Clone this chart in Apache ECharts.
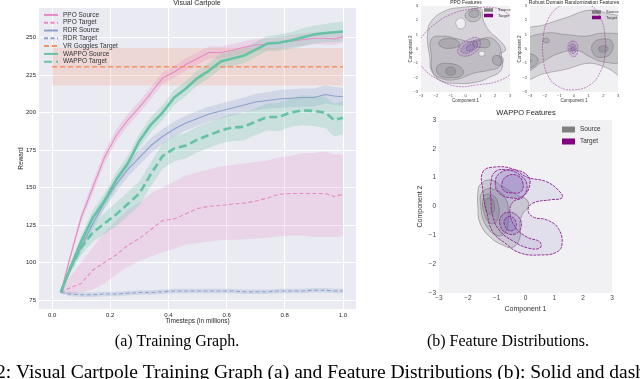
<!DOCTYPE html>
<html>
<head>
<meta charset="utf-8">
<script src="https://cdn.jsdelivr.net/npm/echarts@6/dist/echarts.min.js"></script>
<style>
html, body { margin: 0; padding: 0; background: #fff; }
#chart { width: 640px; height: 379px; }
</style>
</head>
<body>
<div id="chart"></div>
<script>
// training curves (timesteps in millions)
const steps = [0.03,0.06,0.1,0.14,0.18,0.22,0.26,0.3,0.34,0.38,0.42,0.46,0.5,0.54,0.58,0.62,0.66,0.7,0.74,0.78,0.82,0.86,0.9,0.94,0.97,1.0];
const ppoSource = [80,102,130,150,170,184.5,195,203.5,213,223,227,232,236,240,240,241.5,243.5,245,245.5,246.5,247.5,248.5,249.5,249.5,249,250.5];
const ppoSourceSpread = [0.5,2,3,4,4,4,4,4,4,4,4,4,4,4,4,4,4,4,4,4,4,4,4,4,4,4];
const ppoTarget = [80,83,86,95,100,105,111.5,116,122,128,129,132.5,136,137.5,138,139,139.5,141,143,145.5,146,146,146,146,144,145.5];
const ppoTargetLow = [80,79,80,82,86,92,97,101,104,107,109,112,113,114,115,115,115.5,116,116.5,117.5,118,118,117,117,117,117.5];
const ppoTargetHigh = [80,90,100,110,120,128,135,140,146,150,154,158,160,162,164,165,166,167,168,170,171,173,173,174,172,172];
const rdrSource = [80,95,110,126,140,152,162,170,178,184,189,193,196,199,201,203,205,207,208,209,209.5,210,210,212,211,210.5];
const rdrSourceSpread = [0.5,2,3,4,4,5,5,5,5,5,5,5,5,5,5,5,5,5.5,5.5,6,6,6,6,6,6,6];
const rdrTarget = [80,79,78.5,78.5,79,79,79.5,80,80,80.5,81,81,81,81,81,81,80.5,80.5,80.5,81,81,81,81.5,81.5,81,81];
const rdrTargetSpread = [0.5,1.5,1.5,1.5,1.5,1.5,1.5,1.5,1.5,1.5,1.5,1.5,1.5,1.5,1.5,1.5,1.5,1.5,1.5,1.5,1.5,1.5,1.5,1.5,1.5,1.5];
const wappoSource = [80,95,114,130,141,155,166,181,192,200,210,216,223,228,234,236,238,242,246,246.5,248,250,252,253,253.5,254];
const wappoSourceSpread = [0.5,3,4,5,5,5,5,5,5,5,5,5,5,5,5,5,5,5,5,5.5,5.5,6,6,6,6.5,6.5];
const wappoTarget = [80,95,110,120,126,132,139,146,159,171,176,178,182,185,188,190,190.5,194,197,197,200,201.5,201,200,195,196.5];
const wappoTargetSpread = [0.5,3,5,6,7,8,8,8,8,8.5,8.5,8.5,8.5,8.5,8.5,9,9,9,9,9.5,9.5,10,10,10.5,11,11];
const vrSteps = [0.0, 1.0];
const vrTarget = [230.5, 230.5];
const vrSpread = [12.5, 12.5];

const yTicks = [75,100,125,150,175,200,225,250];
const xTicks = [0,0.2,0.4,0.6,0.8,1.0];

// feature KDE contours, [component 1, component 2]
const ppoSourceContours = [
  {level: 1, pts: [[-2.4,1.8],[-1.5,2.6],[-0.2,2.9],[1.0,2.85],[1.2,2.0],[1.65,1.2],[2.3,0.6],[2.7,-0.05],[2.3,-0.4],[2.5,-1.0],[2.3,-1.6],[1.65,-1.95],[0.8,-2.3],[-0.6,-2.4],[-1.7,-2.2],[-2.3,-1.5],[-2.4,-0.65],[-2.55,0.4],[-2.55,1.1]]},
  {level: 2, pts: [[-2.3,0.7],[-1.5,0.9],[-0.5,0.7],[0.5,0.5],[1.5,0.8],[2.1,0.5],[2.4,-0.2],[2.3,-1.2],[1.5,-1.5],[0.5,-1.7],[-0.5,-2.1],[-1.5,-2.1],[-2.2,-1.6],[-2.3,-0.5]]},
  {level: 2, pts: [[0.1,2.6],[0.8,2.8],[1.0,2.2],[0.5,1.9],[0.0,2.2]]},
  {level: 3, pts: [[-1.9,-1.2],[-1.2,-1.0],[-0.3,-1.3],[-0.2,-1.8],[-1.0,-2.0],[-1.8,-1.8]]},
  {level: 3, pts: [[-1.7,0.6],[-0.8,0.7],[-0.4,0.3],[-1.0,0.05],[-1.7,0.2]]},
  {level: 3, pts: [[0.6,0.6],[1.5,0.65],[1.6,0.2],[1.0,0.1],[0.5,0.3]]},
  {level: 3, pts: [[1.9,-0.5],[2.5,-0.6],[2.4,-1.1],[1.9,-1.0]]},
  {level: 3, pts: [[0.25,2.55],[0.8,2.7],[0.85,2.3],[0.35,2.25]]},
  {level: 4, pts: [[-1.3,-1.4],[-0.8,-1.3],[-0.7,-1.7],[-1.2,-1.8]]},
  {level: 0, pts: [[-0.6,2.0],[-0.2,2.15],[0.0,1.7],[-0.3,1.4],[-0.6,1.6]]},
  {level: 0, pts: [[0.95,-0.2],[1.25,-0.2],[1.25,-0.45],[0.95,-0.45]]}
];
const ppoTargetContours = [
  {level: 1, pts: [[-3.3,0.2],[-2.9,0.9],[-2.0,1.8],[-0.8,2.5],[0.5,2.8],[1.8,2.9],[2.8,2.5],[3.4,1.6],[3.6,0],[3.2,-1.5],[2.3,-2.2],[0.8,-2.5],[-0.6,-2.6],[-1.9,-2.1],[-2.8,-1.4],[-3.3,-0.6]]},
  {level: 2, pts: [[-0.4,0.2],[0.1,0.6],[0.8,0.8],[1.0,0.3],[0.7,-0.2],[0.0,-0.5],[-0.5,-0.3]]},
  {level: 3, pts: [[-0.2,0.15],[0.2,0.45],[0.7,0.55],[0.8,0.2],[0.5,-0.1],[0.0,-0.3],[-0.3,-0.15]]},
  {level: 4, pts: [[0.1,0.15],[0.45,0.35],[0.6,0.1],[0.3,-0.1],[0.05,-0.05]]}
];
const rdrSourceContours = [
  {level: 1, pts: [[-3.3,1.2],[-2.0,1.7],[-0.5,2.2],[1.0,2.7],[2.2,2.5],[3.3,2.0],[3.3,-1.8],[2.2,-1.3],[1.0,-1.0],[-0.5,-1.4],[-2.0,-1.7],[-3.3,-2.0]]},
  {level: 2, pts: [[-3.3,0.5],[-2.0,1.1],[-0.5,1.0],[0.8,0.9],[2.0,1.1],[3.3,0.8],[3.3,-0.8],[2.0,-0.9],[1.0,-0.5],[0.2,-0.1],[-1.0,-0.3],[-2.0,-0.8],[-3.3,-1.5]]},
  {level: 3, pts: [[1.3,0.4],[2.0,0.7],[2.6,0.5],[2.5,-0.3],[1.8,-0.6],[1.3,-0.3]]},
  {level: 3, pts: [[-3.3,-0.4],[-2.6,-0.5],[-2.5,-1.0],[-3.3,-1.3]]},
  {level: 3, pts: [[-2.1,0.65],[-1.8,0.75],[-1.7,0.5],[-2.0,0.45]]},
  {level: 4, pts: [[1.7,0.1],[2.2,0.2],[2.3,-0.1],[1.8,-0.2]]},
  {level: 4, pts: [[-3.3,-0.7],[-2.9,-0.8],[-3.3,-1.1]]}
];
const rdrTargetContours = [
  {level: 1, pts: [[0,3.3],[1.2,3.0],[1.8,2.2],[2.1,1.0],[2.1,-0.5],[1.8,-1.6],[1.1,-2.5],[0,-2.85],[-1.1,-2.6],[-1.8,-1.8],[-2.1,-0.6],[-2.1,0.8],[-1.8,2.0],[-1.1,2.9]]},
  {level: 2, pts: [[-0.1,0.55],[0.2,0.4],[0.25,-0.1],[0.1,-0.5],[-0.2,-0.45],[-0.4,0.0],[-0.35,0.4]]},
  {level: 3, pts: [[-0.1,0.35],[0.1,0.25],[0.12,-0.1],[0.0,-0.3],[-0.2,-0.25],[-0.27,0.05],[-0.25,0.3]]},
  {level: 4, pts: [[-0.1,0.15],[0.02,0.08],[0.0,-0.12],[-0.14,-0.12],[-0.17,0.05]]}
];
const wappoSourceContours = [
  {level: 1, pts: [[-1.58,0.75],[-1.23,0.92],[-0.78,0.68],[-0.30,0.40],[0.05,0.23],[0.09,-0.02],[-0.09,-0.23],[-0.19,-0.57],[-0.19,-1.06],[-0.43,-1.41],[-0.78,-1.34],[-1.23,-1.06],[-1.58,-0.57],[-1.65,-0.02],[-1.65,0.47]]},
  {level: 2, pts: [[-1.5,0.5],[-1.1,0.6],[-0.7,0.3],[-0.6,-0.3],[-0.7,-0.9],[-1.0,-1.0],[-1.4,-0.6],[-1.55,0]]},
  {level: 3, pts: [[-1.45,0.35],[-1.15,0.4],[-0.95,0.1],[-0.95,-0.4],[-1.15,-0.6],[-1.4,-0.35]]},
  {level: 4, pts: [[-1.4,0.2],[-1.2,0.3],[-1.08,0.05],[-1.12,-0.2],[-1.3,-0.25],[-1.4,-0.05]]}
];
const wappoTargetContours = [
  {level: 1, pts: [[-1.48,1.20],[-1.06,1.37],[-0.43,1.30],[0.05,1.02],[0.75,0.85],[1.20,0.50],[1.27,0.30],[0.85,0.23],[0.26,0.12],[0.09,-0.12],[0.26,-0.36],[0.75,-0.47],[1.13,-0.75],[1.27,-1.27],[1.09,-1.58],[0.50,-1.68],[-0.19,-1.61],[-0.71,-1.27],[-1.13,-0.89],[-1.34,-0.23],[-1.48,0.57]]},
  {level: 2, pts: [[-1.06,1.20],[-0.64,1.27],[-0.19,1.09],[0.05,0.75],[-0.09,0.33],[-0.43,0.16],[-0.54,-0.19],[-0.36,-0.71],[0.05,-1.06],[0.50,-1.23],[0.50,-1.44],[0.09,-1.44],[-0.43,-1.20],[-0.89,-0.85],[-1.13,-0.36],[-1.20,0.23],[-1.20,0.82]]},
  {level: 3, pts: [[-1.05,0.8],[-0.9,1.15],[-0.45,1.27],[0.05,1.1],[0.15,0.75],[-0.1,0.35],[-0.5,0.3],[-0.9,0.45]]},
  {level: 4, pts: [[-0.82,0.8],[-0.65,1.05],[-0.3,1.08],[-0.1,0.85],[-0.15,0.52],[-0.45,0.47],[-0.75,0.55]]},
  {level: 3, pts: [[-0.85,-0.35],[-0.6,-0.2],[-0.25,-0.35],[-0.15,-0.7],[-0.35,-0.95],[-0.7,-0.9],[-0.88,-0.65]]},
  {level: 4, pts: [[-0.72,-0.45],[-0.5,-0.35],[-0.33,-0.55],[-0.38,-0.8],[-0.6,-0.82],[-0.72,-0.65]]}
];

const SANS = '"Liberation Sans", Arial, sans-serif';
const SERIF = '"Liberation Serif", "Times New Roman", serif';
const PINK = '#e78ac3', BLUE = '#8da0cb', ORANGE = '#fc8d62', GREEN = '#66c2a5';
const GRAY = '#808080', PURPLE = '#800080';

const chart = echarts.init(document.getElementById('chart'));

function lineSeries(name, xs, ys, color, width, dash) {
  return {
    type: 'line', name: name, xAxisIndex: 0, yAxisIndex: 0,
    data: xs.map((x, i) => [x, ys[i]]),
    symbol: 'none', z: 5, color: color,
    lineStyle: {color: color, width: width, type: dash || 'solid', cap: 'butt'}
  };
}

function band(xs, lo, hi, color) {
  return {
    type: 'custom', xAxisIndex: 0, yAxisIndex: 0, z: 2, silent: true,
    data: xs.map((x, i) => [x, lo[i], hi[i]]),
    encode: {x: 0, y: [1, 2]},
    renderItem: function (params, api) {
      if (params.dataIndex !== 0) return;
      const up = xs.map((x, i) => api.coord([x, hi[i]]));
      const dn = xs.map((x, i) => api.coord([x, lo[i]])).reverse();
      return {type: 'polygon', shape: {points: up.concat(dn)}, style: {fill: color}};
    }
  };
}

function meanBand(xs, mean, spread, color) {
  return band(xs, mean.map((v, i) => v - spread[i]), mean.map((v, i) => v + spread[i]), color);
}

function contours(name, idx, polys, kind, small) {
  const isSrc = kind === 'source';
  return {
    type: 'custom', name: name, xAxisIndex: idx, yAxisIndex: idx, clip: true, silent: true,
    z: isSrc ? 3 : 4,
    itemStyle: {color: isSrc ? GRAY : PURPLE},
    data: polys.map((p, i) => [p.pts[0][0], p.pts[0][1], i]),
    encode: {x: 0, y: 1},
    renderItem: function (params, api) {
      const p = polys[params.dataIndex];
      let fill, stroke;
      if (p.level === 0) {
        fill = '#f1f1f4'; stroke = 'rgba(120,120,120,0.8)';
      } else if (isSrc) {
        fill = 'rgba(85,85,90,0.17)'; stroke = 'rgba(105,105,105,0.85)';
      } else {
        fill = p.level === 1 && small ? 'rgba(128,0,128,0.02)' : 'rgba(110,80,170,' + (p.level >= 3 ? 0.2 : 0.11) + ')';
        stroke = '#8e1f8e';
      }
      return {
        type: 'polygon',
        shape: {points: p.pts.map(pt => api.coord(pt)), smooth: 0.45},
        style: {
          fill: fill, stroke: stroke,
          lineWidth: small ? 0.5 : (isSrc ? 0.6 : 0.9),
          lineDash: isSrc ? null : (small ? [2, 1] : [3, 1])
        }
      };
    }
  };
}

const minus = v => String(v).replace('-', '\u2212');

function kdeAxes(idx, fs, nameFs, nameGapX, nameGapY) {
  const common = {
    type: 'value', gridIndex: idx, min: -3, max: 3, interval: 1,
    axisLine: {show: false}, axisTick: {show: false}, splitLine: {show: false},
    nameLocation: 'middle', nameMoveOverlap: false,
    nameTextStyle: {fontFamily: SANS, fontSize: nameFs, color: '#333'},
    axisLabel: {fontFamily: SANS, fontSize: fs, color: '#444', margin: 2, formatter: minus}
  };
  return [
    Object.assign({}, common, {name: 'Component 1', nameGap: nameGapX}),
    Object.assign({}, common, {name: 'Component 2', nameGap: nameGapY, nameRotate: 90,
      axisLabel: Object.assign({}, common.axisLabel, {margin: 3})})
  ];
}

const ppoAx = kdeAxes(1, 4, 4.5, 6, 8);
const rdrAx = kdeAxes(2, 4, 4.5, 6, 8);
const wapAx = kdeAxes(3, 6.5, 7, 13, 15);

const kdeBg = '#f1f1f4';

chart.setOption({
  animation: false,
  backgroundColor: '#ffffff',
  textStyle: {fontFamily: SANS},
  title: [
    {text: 'Visual Cartpole', left: 197, top: 0, textAlign: 'center', padding: 0,
      textStyle: {fontFamily: SANS, fontSize: 7, fontWeight: 'normal', color: '#262626'}},
    {text: 'PPO Features', left: 466, top: 0, textAlign: 'center', padding: 0,
      textStyle: {fontFamily: SANS, fontSize: 5, fontWeight: 'normal', color: '#262626'}},
    {text: 'Robust Domain Randomization Features', left: 574, top: 0, textAlign: 'center', padding: 0,
      textStyle: {fontFamily: SANS, fontSize: 5, fontWeight: 'normal', color: '#262626'}},
    {text: 'WAPPO Features', left: 526, top: 109, textAlign: 'center', padding: 0,
      textStyle: {fontFamily: SANS, fontSize: 7.5, fontWeight: 'normal', color: '#262626'}}
  ],
  grid: [
    {left: 39, top: 8, width: 317, height: 301, show: true, backgroundColor: '#eaeaf2', borderWidth: 0, outerBoundsMode: 'none'},
    {left: 421, top: 6, width: 89, height: 86, show: true, backgroundColor: kdeBg, borderWidth: 0, outerBoundsMode: 'none'},
    {left: 530, top: 6, width: 88, height: 86, show: true, backgroundColor: kdeBg, borderWidth: 0, outerBoundsMode: 'none'},
    {left: 439, top: 120, width: 173, height: 173, show: true, backgroundColor: kdeBg, borderWidth: 0, outerBoundsMode: 'none'}
  ],
  legend: [
    {
      data: ['PPO Source', 'PPO Target', 'RDR Source', 'RDR Target', 'VR Goggles Target', 'WAPPO Source', 'WAPPO Target'],
      orient: 'vertical', left: 43, top: 11, padding: 0, itemGap: 0,
      itemWidth: 14, itemHeight: 6,
      itemStyle: {color: 'transparent', borderWidth: 0, opacity: 0},
      textStyle: {fontFamily: SANS, fontSize: 6.5, color: '#333', lineHeight: 7.8}
    },
    {
      data: ['Source', 'Target'], orient: 'vertical', left: 562, top: 126, padding: 0, itemGap: 5,
      itemWidth: 13, itemHeight: 6, icon: 'rect',
      textStyle: {fontFamily: SANS, fontSize: 6.5, color: '#333'}
    },
    {
      data: ['Source', 'Target'], orient: 'vertical', left: 484, top: 8, padding: 0, itemGap: 1.5,
      itemWidth: 9, itemHeight: 3.5, icon: 'rect',
      textStyle: {fontFamily: SANS, fontSize: 4, color: '#333'}
    },
    {
      data: ['Source', 'Target'], orient: 'vertical', left: 592, top: 10, padding: 0, itemGap: 1.5,
      itemWidth: 9, itemHeight: 3.5, icon: 'rect',
      textStyle: {fontFamily: SANS, fontSize: 4, color: '#333'}
    }
  ],
  xAxis: [
    {
      type: 'value', gridIndex: 0, min: -0.045, max: 1.045,
      name: 'Timesteps (in millions)', nameLocation: 'middle', nameGap: 9, nameMoveOverlap: false,
      nameTextStyle: {fontFamily: SANS, fontSize: 6.5, color: '#262626'},
      axisLine: {show: false},
      axisTick: {show: false, customValues: xTicks},
      axisLabel: {customValues: xTicks, fontFamily: SANS, fontSize: 6, color: '#262626', margin: 3,
        formatter: v => v.toFixed(1)},
      splitLine: {show: true, lineStyle: {color: '#ffffff', width: 1}}
    },
    ppoAx[0], rdrAx[0], wapAx[0]
  ],
  yAxis: [
    {
      type: 'value', gridIndex: 0, min: 69, max: 269.7,
      name: 'Reward', nameLocation: 'middle', nameGap: 14, nameRotate: 90, nameMoveOverlap: false,
      nameTextStyle: {fontFamily: SANS, fontSize: 6.5, color: '#262626'},
      axisLine: {show: false},
      axisTick: {show: false, customValues: yTicks},
      axisLabel: {customValues: yTicks, fontFamily: SANS, fontSize: 6, color: '#262626', margin: 3},
      splitLine: {show: true, lineStyle: {color: '#ffffff', width: 1}}
    },
    ppoAx[1], rdrAx[1], wapAx[1]
  ],
  series: [
    meanBand(vrSteps, vrTarget, vrSpread, 'rgba(252,141,98,0.2)'),
    band(steps, ppoTargetLow, ppoTargetHigh, 'rgba(231,138,195,0.22)'),
    meanBand(steps, ppoSource, ppoSourceSpread, 'rgba(231,138,195,0.25)'),
    meanBand(steps, rdrSource, rdrSourceSpread, 'rgba(141,160,203,0.25)'),
    meanBand(steps, rdrTarget, rdrTargetSpread, 'rgba(141,160,203,0.25)'),
    meanBand(steps, wappoSource, wappoSourceSpread, 'rgba(102,194,165,0.25)'),
    meanBand(steps, wappoTarget, wappoTargetSpread, 'rgba(102,194,165,0.25)'),
    lineSeries('PPO Source', steps, ppoSource, PINK, 1.1),
    lineSeries('PPO Target', steps, ppoTarget, PINK, 1.1, [4, 2.5]),
    lineSeries('RDR Source', steps, rdrSource, BLUE, 1.1),
    lineSeries('RDR Target', steps, rdrTarget, BLUE, 1.1, [4, 2.5]),
    lineSeries('VR Goggles Target', vrSteps, vrTarget, ORANGE, 1.4, [5, 3]),
    lineSeries('WAPPO Source', steps, wappoSource, GREEN, 2.6),
    lineSeries('WAPPO Target', steps, wappoTarget, GREEN, 2.6, [8, 4]),
    contours('Source', 1, ppoSourceContours, 'source', true),
    contours('Target', 1, ppoTargetContours, 'target', true),
    contours('Source', 2, rdrSourceContours, 'source', true),
    contours('Target', 2, rdrTargetContours, 'target', true),
    contours('Source', 3, wappoSourceContours, 'source', false),
    contours('Target', 3, wappoTargetContours, 'target', false)
  ],
  graphic: [
    {type: 'text', x: 177, y: 334, style: {text: '(a) Training Graph.', font: '16px ' + SERIF, fill: '#000', textAlign: 'center'}},
    {type: 'text', x: 508, y: 334, style: {text: '(b) Feature Distributions.', font: '16px ' + SERIF, fill: '#000', textAlign: 'center'}},
    {type: 'text', x: -4, y: 363, style: {text: '2: Visual Cartpole Training Graph (a) and Feature Distributions (b): Solid and dash', font: '19.5px ' + SERIF, fill: '#000', textAlign: 'left'}}
  ]
});
</script>
</body>
</html>
